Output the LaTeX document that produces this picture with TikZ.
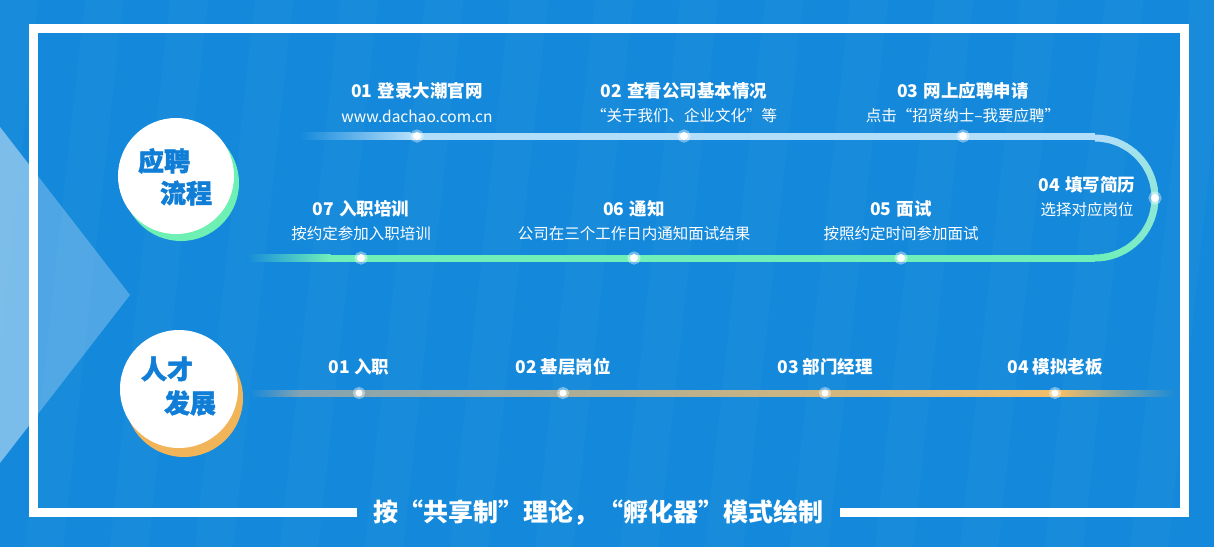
\documentclass[tikz,border=0pt]{standalone}
\usepackage{fontspec}
\setmainfont{Noto Sans CJK SC}
\newfontfamily\badgefont[BoldFeatures={FakeBold=1.6}]{Noto Sans CJK SC}
\usetikzlibrary{positioning}
\definecolor{bgblue}{RGB}{20,137,219}
\definecolor{trackblue}{RGB}{178,222,250}
\definecolor{trackgreen}{RGB}{112,240,184}
\definecolor{talentgray}{RGB}{132,163,178}
\definecolor{talentorange}{RGB}{242,190,104}
\definecolor{shadegreen}{RGB}{110,240,180}
\definecolor{shadeorange}{RGB}{242,180,88}
\definecolor{badgeblue}{RGB}{16,126,214}
\pgfdeclarelayer{back}
\pgfsetlayers{back,main}
\tikzset{
    dot/.style={circle, fill=white, inner sep=0pt, minimum size=8pt, draw=white, draw opacity=0.4, line width=5pt},
    title/.style={text=white, font=\fontsize{17.5}{20}\selectfont\bfseries},
    sub/.style={text=white, font=\fontsize{15.5}{18}\selectfont},
    badge/.style={text=badgeblue, font=\fontsize{26}{28}\selectfont\badgefont\bfseries},
    track/.style={line width=7pt}
}

\begin{document}
\begin{tikzpicture}[x=1pt,y=-1pt]
    \useasboundingbox (0,0) rectangle (1214,547);
    % Recruitment steps, top row
    \foreach \i/\x/\t/\s in {1/417/{01\hspace{0.3em}登录大潮官网}/{www.dachao.com.cn}, 2/684/{02\hspace{0.3em}查看公司基本情况}/{“关于我们、企业文化”等}, 3/963/{03\hspace{0.3em}网上应聘申请}/{点击“招贤纳士–我要应聘”}} {
        \node[dot] (s\i) at (\x,136) {};
        \node[title] (h\i) at (\x,91) {\t};
        \node[sub] (u\i) at (\x,116) {\s};
    }
    \node[dot] (s4) at (1155,198) {};
    \node[title] (h4) at (1087,185) {04\hspace{0.3em}填写简历};
    \node[sub] (u4) at (1087,209.5) {选择对应岗位};
    % Recruitment steps, bottom row
    \foreach \i/\x/\t/\s in {5/901/{05\hspace{0.3em}面试}/{按照约定时间参加面试}, 6/634/{06\hspace{0.3em}通知}/{公司在三个工作日内通知面试结果}, 7/361/{07\hspace{0.3em}入职培训}/{按约定参加入职培训}} {
        \node[dot] (s\i) at (\x,258) {};
        \node[title] (h\i) at (\x,209) {\t};
        \node[sub] (u\i) at (\x,234) {\s};
    }
    % Talent development
    \foreach \i/\x/\t in {1/359/{01 入职}, 2/563/{02 基层岗位}, 3/825/{03 部门经理}, 4/1055/{04 模拟老板}} {
        \node[dot, minimum size=7pt] (t\i) at (\x,393) {};
        \node[title] (l\i) at (\x,367) {\t};
    }
    \coordinate (topfade) at (410,136);
    \coordinate (topturn) at (1095,136);
    \coordinate (botturn) at (1095,258);
    \coordinate (botfade) at (330,258);

    \begin{pgfonlayer}{back}
        % Background
        \fill[bgblue] (0,0) rectangle (1214,547);
        \begin{scope}
            \clip (0,0) rectangle (1214,547);
            \foreach \k in {0,...,15} {
                \fill[white, opacity=0.025] (\k*85,0) -- (\k*85+38,0) -- (\k*85-22,547) -- (\k*85-60,547) -- cycle;
            }
        \end{scope}
        \fill[white, opacity=0.25] (0,127) -- (130,295) -- (0,463) -- cycle;
        \fill[white, opacity=0.25] (0,127) -- (29,164.5) -- (29,425.5) -- (0,463) -- cycle;

        % Recruitment track
        \shade[left color=bgblue, right color=trackblue] (300,132.5) rectangle (410.5,139.5);
        \draw[track, trackblue] (topfade) -- (s1.center) -- (s2.center) -- (s3.center) -- (topturn);
        \foreach \k in {0,...,17} {
            \pgfmathtruncatemacro{\p}{100-100*\k/17}
            \draw[track, trackblue!\p!trackgreen] (1095,198) ++(-90+10*\k:60) arc (-90+10*\k:-79+10*\k:60);
        }
        \draw[track, trackgreen] (botturn) -- (s5.center) -- (s6.center) -- (s7.center) -- (botfade);
        \shade[left color=bgblue, right color=trackgreen] (245,254.5) rectangle (330.5,261.5);

        % Talent track
        \shade[left color=bgblue, right color=talentgray] (250,390) rectangle (300.5,396);
        \shade[left color=talentgray, right color=talentorange] (300,390) rectangle (1060.5,396);
        \shade[left color=talentorange, middle color=talentorange, right color=bgblue] (1060,390) rectangle (1178,396);
    \end{pgfonlayer}

    % Frame
    \draw[white, line width=9pt] (357,512.5) -- (33.5,512.5) -- (33.5,28.5) -- (1184.5,28.5) -- (1184.5,512.5) -- (840,512.5);
    \node[text=white, font=\fontsize{25}{28}\selectfont\bfseries] (motto) at (598,513) {按“共享制”理论，“孵化器”模式绘制};

    % Badges
    \fill[shadegreen] (181,183) circle (58);
    \fill[white] (176,176) circle (58);
    \node[badge] (b1) at (164,161) {应聘};
    \node[badge] (b2) at (186,193) {流程};
    \fill[shadeorange] (184,398) circle (59);
    \fill[white] (179,389) circle (59);
    \node[badge] (b3) at (167,369) {人才};
    \node[badge] (b4) at (190,403) {发展};
\end{tikzpicture}
\end{document}
